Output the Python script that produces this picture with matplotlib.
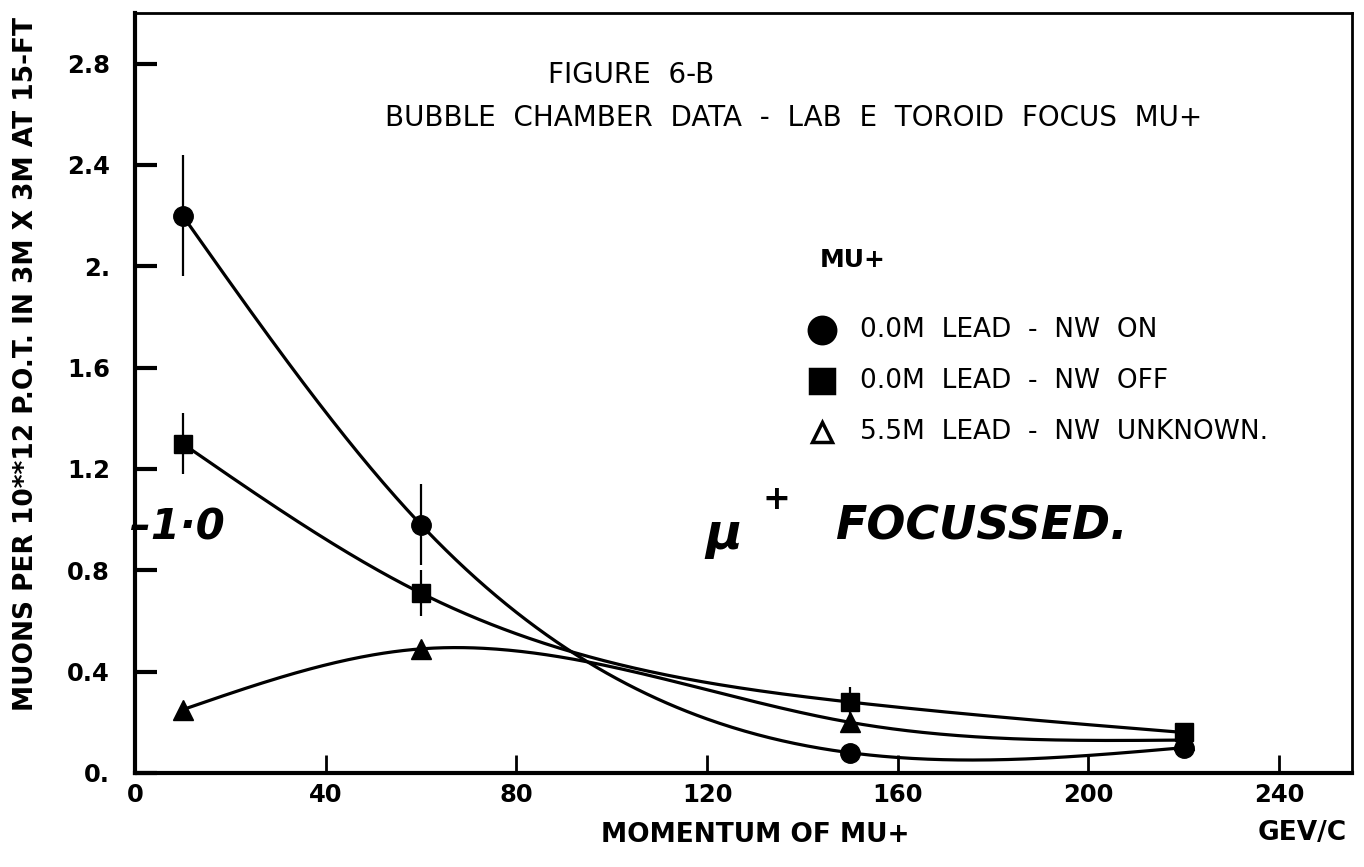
import numpy as np
import matplotlib
matplotlib.use("Agg")
import matplotlib.pyplot as plt

# Momentum (GeV/c) of the four measured bins
momentum = [10, 60, 150, 220]

# Muons per 10**12 protons on target, per configuration
nw_on = [2.20, 0.98, 0.08, 0.10]
nw_on_err = [0.24, 0.16, 0.0, 0.0]
nw_off = [1.30, 0.71, 0.28, 0.16]
nw_off_err = [0.12, 0.09, 0.06, 0.0]
lead_55 = [0.25, 0.49, 0.20, 0.13]

x_ticks = [0, 40, 80, 120, 160, 200, 240]
y_ticks = [0, 0.4, 0.8, 1.2, 1.6, 2.0, 2.4, 2.8]
y_tick_labels = ["0.", "0.4", "0.8", "1.2", "1.6", "2.", "2.4", "2.8"]

legend_labels = ["0.0M  LEAD  -  NW  ON",
                 "0.0M  LEAD  -  NW  OFF",
                 "5.5M  LEAD  -  NW  UNKNOWN."]


def natural_spline(xs, ys, xnew):
    # smooth curve through the points, like the plotter's line
    xs = np.asarray(xs, float)
    ys = np.asarray(ys, float)
    n = len(xs)
    h = np.diff(xs)
    A = np.zeros((n, n))
    r = np.zeros(n)
    A[0, 0] = A[-1, -1] = 1
    for i in range(1, n - 1):
        A[i, i - 1] = h[i - 1]
        A[i, i] = 2 * (h[i - 1] + h[i])
        A[i, i + 1] = h[i]
        r[i] = 3 * ((ys[i + 1] - ys[i]) / h[i] - (ys[i] - ys[i - 1]) / h[i - 1])
    c = np.linalg.solve(A, r)
    b = np.diff(ys) / h - h * (2 * c[:-1] + c[1:]) / 3
    d = (c[1:] - c[:-1]) / (3 * h)
    idx = np.clip(np.searchsorted(xs, xnew) - 1, 0, n - 2)
    t = xnew - xs[idx]
    return ys[idx] + b[idx] * t + c[idx] * t ** 2 + d[idx] * t ** 3


plt.rcParams['font.family'] = ['DejaVu Sans']

W, H = 1364, 867
fig = plt.figure(figsize=(W / 100, H / 100), dpi=100)
ax = fig.add_axes([135 / W, 1 - 773 / H, 1217 / W, 760 / H])


def px(x, y):
    # figure pixel (from top left) -> axes fraction
    return (x - 135) / 1217, (773 - y) / 760


xs = np.linspace(momentum[0], momentum[-1], 400)
for vals, marker, ms in [(nw_on, 'o', 14), (nw_off, 's', 13), (lead_55, '^', 14)]:
    ax.plot(xs, natural_spline(momentum, vals, xs), color='black', lw=2.3)
    ax.plot(momentum, vals, linestyle='none', marker=marker, markersize=ms,
            color='black')

ax.errorbar(momentum, nw_on, yerr=nw_on_err, fmt='none', ecolor='black',
            elinewidth=1.6, capsize=0)
ax.errorbar(momentum, nw_off, yerr=nw_off_err, fmt='none', ecolor='black',
            elinewidth=1.6, capsize=0)

ax.set_xlim(0, 255.3)
ax.set_ylim(0, 3.0)
ax.set_xticks(x_ticks)
ax.set_xticklabels([str(t) for t in x_ticks])
ax.set_yticks(y_ticks)
ax.set_yticklabels(y_tick_labels)
ax.tick_params(direction='in', labelsize=17.5)
ax.tick_params(axis='y', length=16, width=3, pad=18)
ax.tick_params(axis='x', length=13, width=2, pad=7)
for lbl in ax.get_xticklabels() + ax.get_yticklabels():
    lbl.set_fontweight('bold')
for side in ['left', 'bottom']:
    ax.spines[side].set_linewidth(3)
for side in ['top', 'right']:
    ax.spines[side].set_linewidth(2)

fig.text(26 / W, 1 - 364 / H, 'MUONS PER 10**12 P.O.T. IN 3M X 3M AT 15-FT',
         rotation=90, fontsize=19, fontweight='bold', ha='center', va='center')
fig.text(755 / W, 1 - 835 / H, 'MOMENTUM OF MU+', fontsize=19,
         fontweight='bold', ha='center', va='center')
fig.text(1302 / W, 1 - 833 / H, 'GEV/C', fontsize=19, fontweight='bold',
         ha='center', va='center')

# titles and legend block inside the frame
ax.text(*px(548, 75), 'FIGURE  6-B', transform=ax.transAxes, fontsize=20,
        va='center')
ax.text(*px(385, 118), 'BUBBLE  CHAMBER  DATA  -  LAB  E  TOROID  FOCUS  MU+',
        transform=ax.transAxes, fontsize=20, va='center')
ax.text(*px(820, 260), 'MU+', transform=ax.transAxes, fontsize=18,
        fontweight='bold', va='center')

for marker, face, label, yy in zip(['o', 's', '^'], ['black', 'black', 'white'],
                                   legend_labels, [330, 381, 432]):
    ax.plot(*px(822, yy), transform=ax.transAxes, marker=marker,
            markersize={'o': 19, 's': 17, '^': 15}[marker],
            markerfacecolor=face, markeredgecolor='black',
            markeredgewidth=2.5, linestyle='none')
    ax.text(*px(860, yy), label, transform=ax.transAxes, fontsize=19,
            va='center')

# handwritten notes
ax.text(*px(130, 528), '\u20131\u00b70', transform=ax.transAxes, fontsize=30,
        fontweight='bold', style='italic', va='center')
ax.text(*px(705, 535), '\u03bc', transform=ax.transAxes, fontsize=36,
        fontweight='bold', style='italic', va='center')
ax.text(*px(762, 500), '+', transform=ax.transAxes, fontsize=24,
        fontweight='bold', va='center')
ax.text(*px(835, 527), 'FOCUSSED.', transform=ax.transAxes, fontsize=33,
        fontweight='bold', style='italic', va='center')

fig.savefig('out.png', dpi=100)
